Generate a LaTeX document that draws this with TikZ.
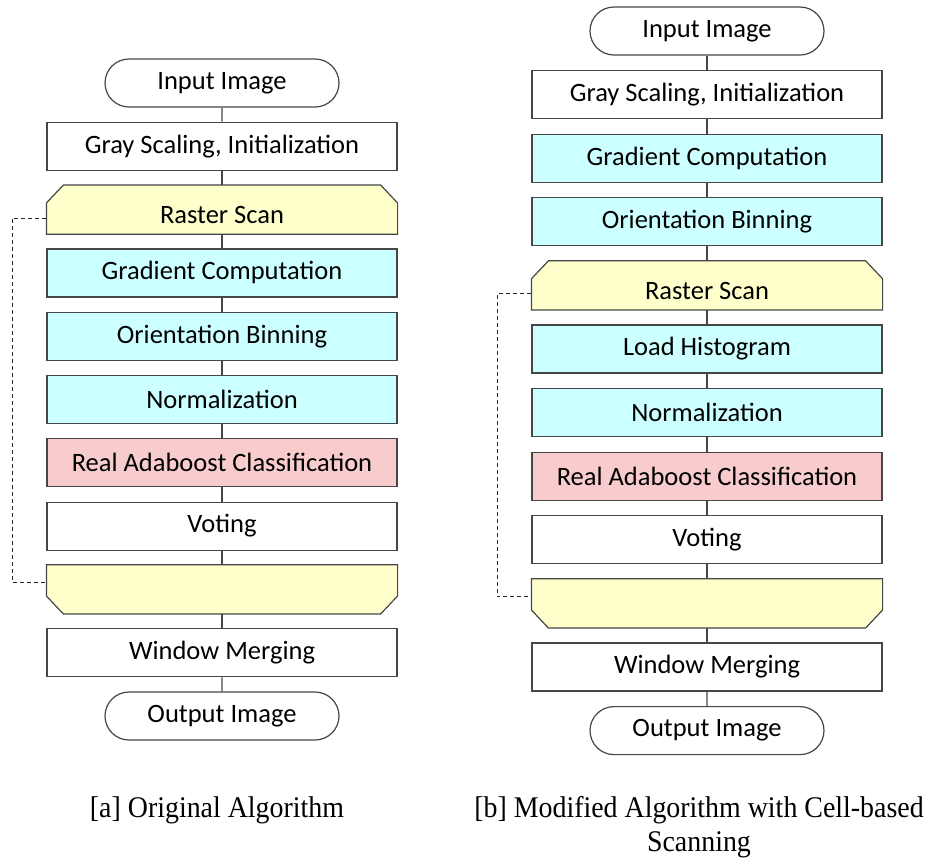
\documentclass[tikz,border=0pt]{standalone}
\usepackage{fontspec}
\usetikzlibrary{shapes.misc,backgrounds}
\newfontfamily\boxfont{Carlito}
\newfontfamily\capfont[FakeStretch=0.93]{Liberation Serif}
\definecolor{hogcyan}{RGB}{204,255,255}
\definecolor{clspink}{RGB}{248,204,204}
\definecolor{scanyel}{RGB}{255,255,204}
\definecolor{edgegray}{RGB}{70,70,70}
\tikzset{
    flowbase/.style={draw=edgegray,line width=1.2pt,minimum width=350pt,minimum height=48pt,inner sep=0pt,font=\boxfont\fontsize{26.5}{30}\selectfont},
    plainbox/.style={flowbase,rectangle,fill=white},
    hogbox/.style={flowbase,rectangle,fill=hogcyan},
    clsbox/.style={flowbase,rectangle,fill=clspink},
    iobox/.style={flowbase,rounded rectangle,minimum width=234pt,fill=white},
    scanbox/.style={flowbase,rectangle,draw=none},
    scantop/.style={scanbox,text height=28pt,text depth=0pt},
    scanshape/.style={draw=edgegray,line width=1.2pt,fill=scanyel,line join=miter},
    link/.style={draw=edgegray,line width=1.2pt},
    loopline/.style={draw=black!85,line width=1pt,dash pattern=on 4pt off 3pt},
    capt/.style={inner sep=0pt,align=center,font=\capfont\fontsize{30}{34}\selectfont}
}
\begin{document}
\begin{tikzpicture}[x=1pt,y=-1pt]
\useasboundingbox (0,0) rectangle (940,863);
% original algorithm
\foreach \sty/\txt [count=\i] in {iobox/Input Image,plainbox/Gray Scaling{,} Initialization,scantop/Raster Scan,hogbox/Gradient Computation,hogbox/Orientation Binning,hogbox/Normalization,clsbox/Real Adaboost Classification,plainbox/Voting,scanbox/,plainbox/Window Merging,iobox/Output Image}
{
    \node[\sty] (a\i) at (222,{83+(\i-1)*63.3}) {\txt};
}
% modified algorithm
\foreach \sty/\txt [count=\i] in {iobox/Input Image,plainbox/Gray Scaling{,} Initialization,hogbox/Gradient Computation,hogbox/Orientation Binning,scantop/Raster Scan,hogbox/Load Histogram,hogbox/Normalization,clsbox/Real Adaboost Classification,plainbox/Voting,scanbox/,plainbox/Window Merging,iobox/Output Image}
{
    \node[\sty] (b\i) at (707,{31+(\i-1)*63.6}) {\txt};
}
\begin{scope}[on background layer]
    % loop start and loop end shapes
    \foreach \n in {a3,b5}
    {
        \draw[scanshape] (\n.south west) -- ([yshift=-18pt]\n.north west) -- ([xshift=17pt]\n.north west) -- ([xshift=-17pt]\n.north east) -- ([yshift=-18pt]\n.north east) -- (\n.south east) -- cycle;
    }
    \foreach \n in {a9,b10}
    {
        \draw[scanshape] (\n.north west) -- ([yshift=18pt]\n.south west) -- ([xshift=17pt]\n.south west) -- ([xshift=-17pt]\n.south east) -- ([yshift=18pt]\n.south east) -- (\n.north east) -- cycle;
    }
    \foreach \i in {2,...,11}
    {
        \pgfmathtruncatemacro{\j}{\i-1}
        \draw[link] (a\j) -- (a\i);
    }
    \foreach \i in {2,...,12}
    {
        \pgfmathtruncatemacro{\j}{\i-1}
        \draw[link] (b\j) -- (b\i);
    }
\end{scope}
\draw[loopline] ([yshift=-8.5pt]a3.west) -- ++(-34,0) |- ([yshift=6.5pt]a9.west);
\draw[loopline] ([yshift=-8.5pt]b5.west) -- ++(-34,0) |- ([yshift=6.5pt]b10.west);
% captions
\node[capt,anchor=north] (capa) at (217,796) {[a] Original Algorithm};
\node[capt,anchor=north] (capb) at (699,796) {[b] Modified Algorithm with Cell-based\\Scanning};
\end{tikzpicture}
\end{document}
